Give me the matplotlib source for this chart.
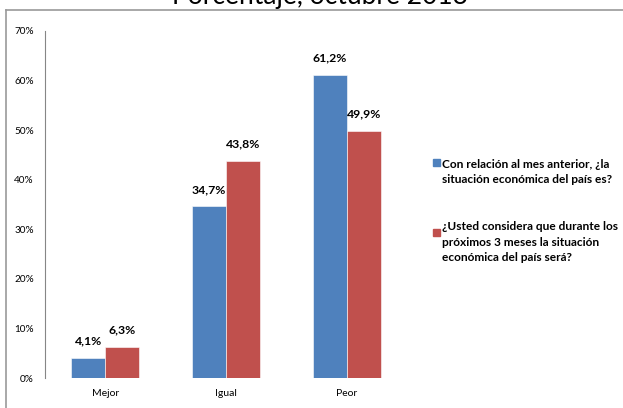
import matplotlib
matplotlib.use("Agg")
import matplotlib.pyplot as plt
from matplotlib.lines import Line2D
from matplotlib.patches import Rectangle
import numpy as np

plt.rcParams['font.family'] = ['Lato', 'DejaVu Sans']

categories = ["Mejor", "Igual", "Peor"]
series_names = ["Con relación al mes anterior, ¿la\nsituación económica del país es?",
                "¿Usted considera que durante los\npróximos 3 meses la situación\neconómica del país será?"]
values_prev = [4.1, 34.7, 61.2]
values_next = [6.3, 43.8, 49.9]
yticks = [0, 10, 20, 30, 40, 50, 60, 70]
title = "Porcentaje, octubre 2013"

colors = ["#4F81BD", "#C0504D"]

W, H = 623, 408
fig = plt.figure(figsize=(W/100, H/100), dpi=100)
ax = fig.add_axes([45/W, 1-378/H, (407-45)/W, (378-31)/H])

x = np.arange(len(categories))
bw = 0.283
for i, (vals, c) in enumerate(zip([values_prev, values_next], colors)):
    pos = x + (i - 0.5) * bw
    ax.bar(pos, vals, width=bw, color=c, edgecolor='white', linewidth=0.4)
    for p, v in zip(pos, vals):
        ax.annotate(f"{v:.1f}%".replace('.', ','), (p, v), xytext=(0, 8),
                    textcoords='offset points', ha='center', va='bottom',
                    fontsize=8.8, fontweight='bold', color='black')

ax.set_xlim(-0.5, 2.5)
ax.set_ylim(0, 70)
ax.set_yticks(yticks)
ax.set_yticklabels([f"{t}%" for t in yticks], fontsize=7.2)
ax.set_xticks(x)
ax.set_xticklabels(categories, fontsize=7.5)
ax.tick_params(axis='y', length=0, pad=8)
ax.tick_params(axis='x', length=0, pad=8)
for s in ['top', 'right', 'bottom']:
    ax.spines[s].set_visible(False)
ax.spines['left'].set_color('#868686')
ax.spines['left'].set_linewidth(0.8)

# Legend (manual)
leg_y = [172, 242]
for name, c, yc in zip(series_names, colors, leg_y):
    fig.patches.append(Rectangle((433/W, 1-(yc - 10 + 4)/H), 7/W, 7/H,
                                 transform=fig.transFigure, color=c))
    fig.text(442/W, 1-yc/H, name, fontsize=8.6, fontweight='bold',
             va='center', ha='left', linespacing=1.55)

# Title (cut off at the top, as in the reference)
fig.text(320/W, 1-4/H, title, fontsize=19, ha='center', va='baseline')

# frame lines
fig.add_artist(Line2D([6/W, 1], [1-10/H, 1-10/H], transform=fig.transFigure,
                      color='#999999', linewidth=1.2))
fig.add_artist(Line2D([6/W, 6/W], [1-10/H, 0], transform=fig.transFigure,
                      color='#999999', linewidth=1.2))

fig.savefig("out.png", dpi=100)
